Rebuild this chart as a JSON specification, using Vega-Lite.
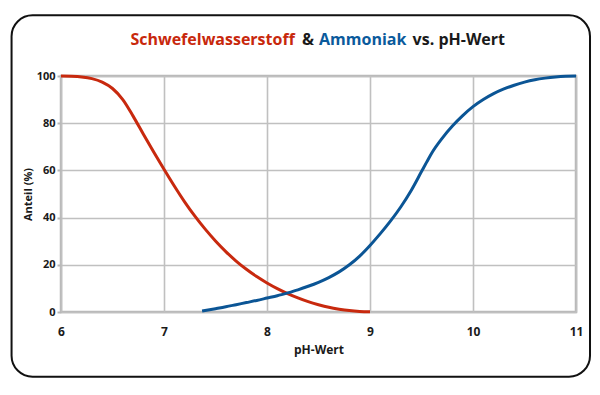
{
  "$schema": "https://vega.github.io/schema/vega-lite/v6.json",
  "width": 515,
  "height": 236,
  "autosize": {"type": "none"},
  "padding": {"left": 61, "top": 76, "right": 24, "bottom": 83},
  "background": "white",
  "config": {
    "font": "Open Sans",
    "view": {"stroke": "#b8b8b8", "strokeWidth": 2.5},
    "axis": {
      "labelFont": "Open Sans",
      "labelFontWeight": "bold",
      "labelFontSize": 11,
      "labelColor": "#1a1a1a",
      "titleFont": "Open Sans",
      "titleFontWeight": "bold",
      "titleColor": "#1a1a1a",
      "gridColor": "#c0c0c0",
      "gridWidth": 1.6,
      "domain": false,
      "labelFlush": false,
      "labelOverlap": false
    }
  },
  "layer": [
    {
      "data": {"values": [
        {"pH": 6.0, "Anteil": 100, "Stoff": "Schwefelwasserstoff"},
        {"pH": 6.1, "Anteil": 99.9, "Stoff": "Schwefelwasserstoff"},
        {"pH": 6.2, "Anteil": 99.6, "Stoff": "Schwefelwasserstoff"},
        {"pH": 6.3, "Anteil": 98.9, "Stoff": "Schwefelwasserstoff"},
        {"pH": 6.4, "Anteil": 97.4, "Stoff": "Schwefelwasserstoff"},
        {"pH": 6.5, "Anteil": 94.7, "Stoff": "Schwefelwasserstoff"},
        {"pH": 6.6, "Anteil": 90.0, "Stoff": "Schwefelwasserstoff"},
        {"pH": 6.7, "Anteil": 83.0, "Stoff": "Schwefelwasserstoff"},
        {"pH": 6.8, "Anteil": 75.3, "Stoff": "Schwefelwasserstoff"},
        {"pH": 6.9, "Anteil": 67.8, "Stoff": "Schwefelwasserstoff"},
        {"pH": 7.0, "Anteil": 60.5, "Stoff": "Schwefelwasserstoff"},
        {"pH": 7.1, "Anteil": 53.4, "Stoff": "Schwefelwasserstoff"},
        {"pH": 7.2, "Anteil": 46.7, "Stoff": "Schwefelwasserstoff"},
        {"pH": 7.3, "Anteil": 40.6, "Stoff": "Schwefelwasserstoff"},
        {"pH": 7.4, "Anteil": 35.1, "Stoff": "Schwefelwasserstoff"},
        {"pH": 7.5, "Anteil": 30.1, "Stoff": "Schwefelwasserstoff"},
        {"pH": 7.6, "Anteil": 25.6, "Stoff": "Schwefelwasserstoff"},
        {"pH": 7.7, "Anteil": 21.6, "Stoff": "Schwefelwasserstoff"},
        {"pH": 7.8, "Anteil": 18.1, "Stoff": "Schwefelwasserstoff"},
        {"pH": 7.9, "Anteil": 15.0, "Stoff": "Schwefelwasserstoff"},
        {"pH": 8.0, "Anteil": 12.3, "Stoff": "Schwefelwasserstoff"},
        {"pH": 8.1, "Anteil": 9.9, "Stoff": "Schwefelwasserstoff"},
        {"pH": 8.2, "Anteil": 7.8, "Stoff": "Schwefelwasserstoff"},
        {"pH": 8.3, "Anteil": 6.0, "Stoff": "Schwefelwasserstoff"},
        {"pH": 8.4, "Anteil": 4.4, "Stoff": "Schwefelwasserstoff"},
        {"pH": 8.5, "Anteil": 3.1, "Stoff": "Schwefelwasserstoff"},
        {"pH": 8.6, "Anteil": 2.0, "Stoff": "Schwefelwasserstoff"},
        {"pH": 8.7, "Anteil": 1.2, "Stoff": "Schwefelwasserstoff"},
        {"pH": 8.8, "Anteil": 0.6, "Stoff": "Schwefelwasserstoff"},
        {"pH": 8.9, "Anteil": 0.25, "Stoff": "Schwefelwasserstoff"},
        {"pH": 9.0, "Anteil": 0.1, "Stoff": "Schwefelwasserstoff"},
        {"pH": 7.37, "Anteil": 0.4, "Stoff": "Ammoniak"},
        {"pH": 7.5, "Anteil": 1.4, "Stoff": "Ammoniak"},
        {"pH": 7.6, "Anteil": 2.2, "Stoff": "Ammoniak"},
        {"pH": 7.7, "Anteil": 3.1, "Stoff": "Ammoniak"},
        {"pH": 7.8, "Anteil": 4.0, "Stoff": "Ammoniak"},
        {"pH": 7.9, "Anteil": 4.9, "Stoff": "Ammoniak"},
        {"pH": 8.0, "Anteil": 5.9, "Stoff": "Ammoniak"},
        {"pH": 8.1, "Anteil": 6.9, "Stoff": "Ammoniak"},
        {"pH": 8.2, "Anteil": 8.1, "Stoff": "Ammoniak"},
        {"pH": 8.3, "Anteil": 9.4, "Stoff": "Ammoniak"},
        {"pH": 8.4, "Anteil": 10.9, "Stoff": "Ammoniak"},
        {"pH": 8.5, "Anteil": 12.6, "Stoff": "Ammoniak"},
        {"pH": 8.6, "Anteil": 14.6, "Stoff": "Ammoniak"},
        {"pH": 8.7, "Anteil": 17.0, "Stoff": "Ammoniak"},
        {"pH": 8.8, "Anteil": 20.0, "Stoff": "Ammoniak"},
        {"pH": 8.9, "Anteil": 23.7, "Stoff": "Ammoniak"},
        {"pH": 9.0, "Anteil": 28.2, "Stoff": "Ammoniak"},
        {"pH": 9.1, "Anteil": 33.2, "Stoff": "Ammoniak"},
        {"pH": 9.2, "Anteil": 38.6, "Stoff": "Ammoniak"},
        {"pH": 9.3, "Anteil": 44.6, "Stoff": "Ammoniak"},
        {"pH": 9.4, "Anteil": 51.5, "Stoff": "Ammoniak"},
        {"pH": 9.5, "Anteil": 59.5, "Stoff": "Ammoniak"},
        {"pH": 9.55, "Anteil": 63.5, "Stoff": "Ammoniak"},
        {"pH": 9.6, "Anteil": 67.4, "Stoff": "Ammoniak"},
        {"pH": 9.7, "Anteil": 73.6, "Stoff": "Ammoniak"},
        {"pH": 9.8, "Anteil": 78.8, "Stoff": "Ammoniak"},
        {"pH": 9.9, "Anteil": 83.2, "Stoff": "Ammoniak"},
        {"pH": 10.0, "Anteil": 87.0, "Stoff": "Ammoniak"},
        {"pH": 10.1, "Anteil": 90.0, "Stoff": "Ammoniak"},
        {"pH": 10.2, "Anteil": 92.5, "Stoff": "Ammoniak"},
        {"pH": 10.3, "Anteil": 94.5, "Stoff": "Ammoniak"},
        {"pH": 10.4, "Anteil": 96.1, "Stoff": "Ammoniak"},
        {"pH": 10.5, "Anteil": 97.4, "Stoff": "Ammoniak"},
        {"pH": 10.6, "Anteil": 98.4, "Stoff": "Ammoniak"},
        {"pH": 10.7, "Anteil": 99.1, "Stoff": "Ammoniak"},
        {"pH": 10.8, "Anteil": 99.6, "Stoff": "Ammoniak"},
        {"pH": 10.9, "Anteil": 99.9, "Stoff": "Ammoniak"},
        {"pH": 11.0, "Anteil": 100, "Stoff": "Ammoniak"}
      ]},
      "mark": {"type": "line", "strokeWidth": 3, "interpolate": "monotone"},
      "encoding": {
        "x": {
          "field": "pH", "type": "quantitative", "title": "pH-Wert",
          "scale": {"domain": [6, 11], "nice": false, "zero": false},
          "axis": {"grid": true, "ticks": false, "values": [6, 7, 8, 9, 10, 11], "labelOverlap": false, "labelFlush": false, "labelFontSize": 12, "labelPadding": 14, "titleFontSize": 12, "titlePadding": 7}
        },
        "y": {
          "field": "Anteil", "type": "quantitative", "title": "Anteil (%)",
          "scale": {"domain": [0, 100], "nice": false},
          "axis": {"grid": true, "ticks": true, "values": [0, 20, 40, 60, 80, 100], "labelOverlap": false, "labelFlush": false, "tickColor": "#b8b8b8", "tickWidth": 2, "tickSize": 4, "labelPadding": 2, "titleFontSize": 11, "titlePadding": 3}
        },
        "color": {
          "field": "Stoff", "type": "nominal",
          "scale": {"domain": ["Schwefelwasserstoff", "Ammoniak"], "range": ["#c8290e", "#0b5595"]},
          "legend": null
        }
      }
    },
    {
      "data": {"values": [{"frame": "Rahmen"}]},
      "mark": {"type": "rect", "fillOpacity": 0, "stroke": "#111111", "strokeWidth": 2, "cornerRadius": 21},
      "encoding": {
        "x": {"datum": 5.52, "type": "quantitative", "title": "pH-Wert",
          "axis": {"grid": true, "ticks": false, "values": [6, 7, 8, 9, 10, 11], "labelOverlap": false, "labelFlush": false, "labelFontSize": 12, "labelPadding": 14, "titleFontSize": 12, "titlePadding": 7}},
        "x2": {"datum": 11.136},
        "y": {"datum": 125.7, "type": "quantitative", "title": "Anteil (%)",
          "axis": {"grid": true, "ticks": true, "values": [0, 20, 40, 60, 80, 100], "labelOverlap": false, "labelFlush": false, "tickColor": "#b8b8b8", "tickWidth": 2, "tickSize": 4, "labelPadding": 2, "titleFontSize": 11, "titlePadding": 3}},
        "y2": {"datum": -27.4}
      }
    },
    {
      "data": {"values": [{"Teil": "Schwefelwasserstoff"}]},
      "mark": {"type": "text", "align": "right", "baseline": "alphabetic", "fontSize": 16, "fontWeight": "bold", "color": "#c8280c"},
      "encoding": {
        "x": {"datum": 8.27, "type": "quantitative", "title": "pH-Wert",
          "axis": {"grid": true, "ticks": false, "values": [6, 7, 8, 9, 10, 11], "labelOverlap": false, "labelFlush": false, "labelFontSize": 12, "labelPadding": 14, "titleFontSize": 12, "titlePadding": 7}},
        "y": {"datum": 113, "type": "quantitative", "title": "Anteil (%)",
          "axis": {"grid": true, "ticks": true, "values": [0, 20, 40, 60, 80, 100], "labelOverlap": false, "labelFlush": false, "tickColor": "#b8b8b8", "tickWidth": 2, "tickSize": 4, "labelPadding": 2, "titleFontSize": 11, "titlePadding": 3}},
        "text": {"field": "Teil"}
      }
    },
    {
      "data": {"values": [{"Teil": "&"}]},
      "mark": {"type": "text", "align": "center", "baseline": "alphabetic", "fontSize": 16, "fontWeight": "bold", "color": "#1a1a1a"},
      "encoding": {
        "x": {"datum": 8.398, "type": "quantitative", "title": "pH-Wert",
          "axis": {"grid": true, "ticks": false, "values": [6, 7, 8, 9, 10, 11], "labelOverlap": false, "labelFlush": false, "labelFontSize": 12, "labelPadding": 14, "titleFontSize": 12, "titlePadding": 7}},
        "y": {"datum": 113, "type": "quantitative", "title": "Anteil (%)",
          "axis": {"grid": true, "ticks": true, "values": [0, 20, 40, 60, 80, 100], "labelOverlap": false, "labelFlush": false, "tickColor": "#b8b8b8", "tickWidth": 2, "tickSize": 4, "labelPadding": 2, "titleFontSize": 11, "titlePadding": 3}},
        "text": {"field": "Teil"}
      }
    },
    {
      "data": {"values": [{"Teil": "Ammoniak"}]},
      "mark": {"type": "text", "align": "left", "baseline": "alphabetic", "fontSize": 16, "fontWeight": "bold", "color": "#0a5a9c"},
      "encoding": {
        "x": {"datum": 8.505, "type": "quantitative", "title": "pH-Wert",
          "axis": {"grid": true, "ticks": false, "values": [6, 7, 8, 9, 10, 11], "labelOverlap": false, "labelFlush": false, "labelFontSize": 12, "labelPadding": 14, "titleFontSize": 12, "titlePadding": 7}},
        "y": {"datum": 113, "type": "quantitative", "title": "Anteil (%)",
          "axis": {"grid": true, "ticks": true, "values": [0, 20, 40, 60, 80, 100], "labelOverlap": false, "labelFlush": false, "tickColor": "#b8b8b8", "tickWidth": 2, "tickSize": 4, "labelPadding": 2, "titleFontSize": 11, "titlePadding": 3}},
        "text": {"field": "Teil"}
      }
    },
    {
      "data": {"values": [{"Teil": "vs. pH-Wert"}]},
      "mark": {"type": "text", "align": "right", "baseline": "alphabetic", "fontSize": 16, "fontWeight": "bold", "color": "#1a1a1a"},
      "encoding": {
        "x": {"datum": 10.311, "type": "quantitative", "title": "pH-Wert",
          "axis": {"grid": true, "ticks": false, "values": [6, 7, 8, 9, 10, 11], "labelOverlap": false, "labelFlush": false, "labelFontSize": 12, "labelPadding": 14, "titleFontSize": 12, "titlePadding": 7}},
        "y": {"datum": 113, "type": "quantitative", "title": "Anteil (%)",
          "axis": {"grid": true, "ticks": true, "values": [0, 20, 40, 60, 80, 100], "labelOverlap": false, "labelFlush": false, "tickColor": "#b8b8b8", "tickWidth": 2, "tickSize": 4, "labelPadding": 2, "titleFontSize": 11, "titlePadding": 3}},
        "text": {"field": "Teil"}
      }
    }
  ]
}
